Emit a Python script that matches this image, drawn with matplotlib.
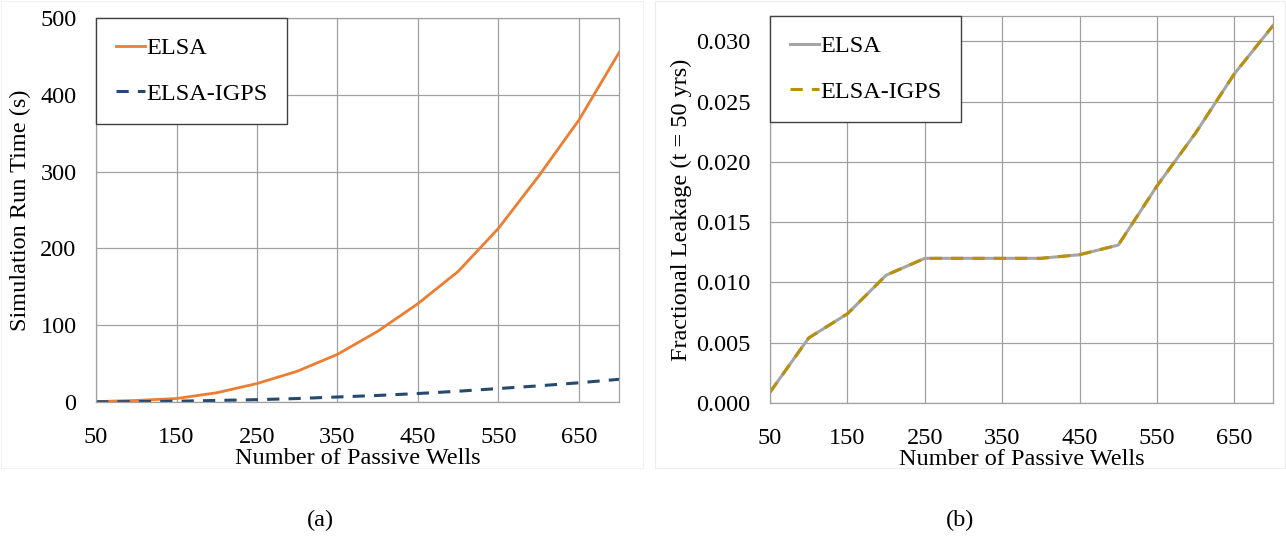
import matplotlib
matplotlib.use('Agg')
import matplotlib.pyplot as plt
from matplotlib.patches import Rectangle
import numpy as np

plt.rcParams['font.family'] = ['Liberation Serif', 'DejaVu Serif']

# numero de pocos passivos
wells = [50, 100, 150, 200, 250, 300, 350, 400, 450, 500, 550, 600, 650, 700]

# (a) tempo de simulacao (s)
run_elsa = [0.5, 2, 4.5, 12, 24, 40, 62, 92, 128, 170, 226, 294, 367, 455]
run_igps = [0.2, 0.5, 1, 2, 3, 4.5, 6.5, 8.5, 11, 14, 17.5, 21, 25, 29.5]

# (b) vazamento fracional (t = 50 anos)
leak_elsa = [0.0009, 0.0054, 0.0074, 0.0106, 0.0120, 0.0120, 0.0120, 0.0120,
             0.0123, 0.0131, 0.0180, 0.0224, 0.0273, 0.0313]
leak_igps = leak_elsa

xticks = [50, 150, 250, 350, 450, 550, 650]

fig = plt.figure(figsize=(12.86, 5.4), dpi=100)
ax1 = fig.add_axes([0.0747, 0.2556, 0.4067, 0.7111])
ax2 = fig.add_axes([0.5988, 0.2537, 0.3911, 0.7167])

# bordas claras das areas dos graficos
fig.patches.append(Rectangle((1 / 1286, 1 - 468 / 540), 642 / 1286, 467 / 540,
                             transform=fig.transFigure, fill=False,
                             edgecolor='#f0f0f0', linewidth=0.8))
fig.patches.append(Rectangle((655 / 1286, 1 - 468 / 540), 630 / 1286, 467 / 540,
                             transform=fig.transFigure, fill=False,
                             edgecolor='#ececec', linewidth=0.8))

fs = 17.5

def estilo(ax):
    ax.set_xlim(50, 700)
    ax.set_xticks(xticks)
    ax.grid(True, color='#a0a0a0', linewidth=0.9)
    ax.set_axisbelow(True)
    for s in ax.spines.values():
        s.set_color('#a0a0a0')
        s.set_linewidth(0.9)
    ax.tick_params(length=0, labelsize=fs)
    ax.tick_params(axis='x', pad=18)
    ax.tick_params(axis='y', pad=14)
    ax.set_xlabel('Number of Passive Wells', fontsize=fs, labelpad=0)

def legenda(ax):
    leg = ax.legend(loc='upper left', fontsize=fs, handlelength=1.2, handletextpad=0.05,
                    borderaxespad=0, fancybox=False, framealpha=1, labelspacing=0.95,
                    borderpad=0.8)
    leg.get_frame().set_edgecolor('#404040')
    leg.get_frame().set_linewidth(1.0)

ax1.plot(wells, run_elsa, color='#ed7d31', linewidth=2, label='ELSA')
ax1.plot(wells, run_igps, color='#264a6e', linewidth=2.2, linestyle=(0, (4, 3)), label='ELSA-IGPS')
estilo(ax1)
ax1.set_ylim(0, 500)
ax1.set_yticks(np.arange(0, 501, 100))
ax1.set_ylabel('Simulation Run Time (s)', fontsize=fs, labelpad=7)
legenda(ax1)

ax2.plot(wells, leak_elsa, color='#a5a5a5', linewidth=2.2, label='ELSA')
ax2.plot(wells, leak_igps, color='#b8900a', linewidth=2.2, linestyle=(0, (4, 3)), label='ELSA-IGPS')
estilo(ax2)
ax2.set_ylim(0, 0.0321)
ax2.set_yticks(np.arange(0, 0.0301, 0.005))
ax2.set_yticklabels(['%.3f' % v for v in np.arange(0, 0.0301, 0.005)])
ax2.set_ylabel('Fractional Leakage (t = 50 yrs)', fontsize=fs, labelpad=3)
legenda(ax2)

fig.text(320 / 1286, 1 - 520 / 540, '(a)', fontsize=fs, ha='center', va='center')
fig.text(960 / 1286, 1 - 520 / 540, '(b)', fontsize=fs, ha='center', va='center')

fig.savefig('out.png', dpi=100)
